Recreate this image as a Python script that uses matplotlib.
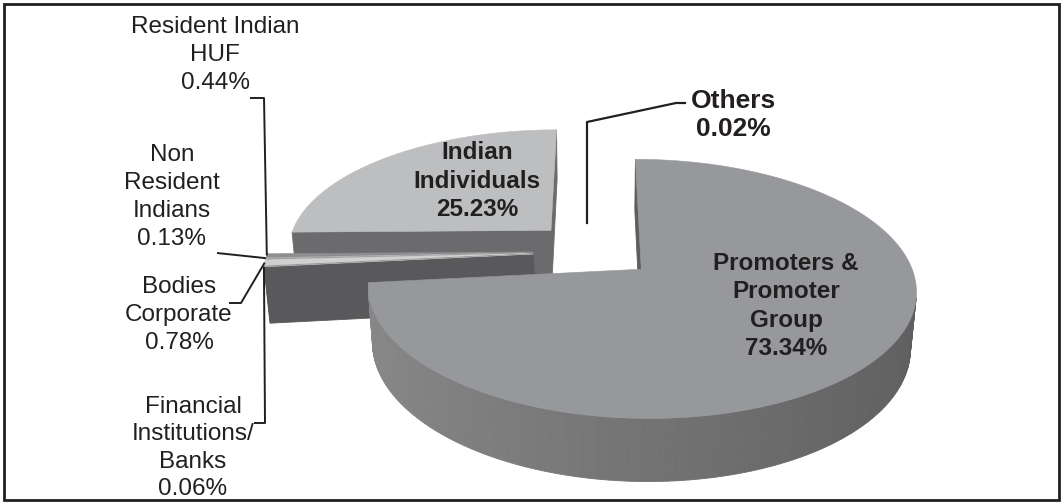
import numpy as np
import matplotlib
matplotlib.use("Agg")
import matplotlib.pyplot as plt
from matplotlib.patches import Polygon, Rectangle

# ---------------- data ----------------
categories = ["Promoters &\nPromoter\nGroup", "Financial\nInstitutions/\nBanks",
              "Bodies\nCorporate", "Non\nResident\nIndians",
              "Resident Indian\nHUF", "Indian\nIndividuals", "Others"]
values = [73.34, 0.06, 0.78, 0.13, 0.44, 25.23, 0.02]

# ---------------- style / layout ----------------
top_colors = ["#97989b", "#a9a9ab", "#d0d0d0", "#b4b4b6", "#8e8e90", "#bdbec0", "#ffffff"]
cut_colors = ["#5e5e61", "#59595b", "#5c5c5e", "#5e5e60", "#606062", "#6b6b6e", "#ffffff"]
side_base = [115, 110, 110, 110, 110, 120, 255]
edge_lw = [0.6, 0.6, 0.6, 0.6, 0.6, 0.6, 0.0]
explode = [0.22, 0.24, 0.24, 0.24, 0.24, 0.25, 0.25]
label_bold = [True, False, False, False, False, True, True]
label_size = [17.5, 17.5, 17.5, 17.5, 17.5, 17.5, 19]
label_ls = [1.30, 1.32, 1.36, 1.36, 1.36, 1.30, 1.25]
label_xy = [(786, 306), (193, 448), (179, 315), (172, 197), (215, 55), (477, 181), (733, 115)]
leaders = {
    4: [(250, 98), (264, 98)],
    3: [(217, 253)],
    2: [(229, 303), (241, 303)],
    1: [(254, 423), (265, 423)],
}
others_leader = [(685, 103), (676, 103), (587, 122), (587, 223)]

W, H = 1063, 504
F = 1587.0
Ldist = 5.99
phi = np.radians(27.2)
sphi, cphi = np.sin(phi), np.cos(phi)
CX, CY = 597.0, 251.0
HGT = 0.24
CAM = np.array([0.0, -Ldist * cphi, Ldist * sphi])


def proj(P):
    P = np.atleast_2d(P)
    X, V, Z = P[:, 0], P[:, 1], P[:, 2]
    depth = Ldist + V * cphi - Z * sphi
    sx = CX + F * X / depth
    sy = CY - F * (V * sphi + Z * cphi) / depth
    return np.column_stack([sx, sy])


def depth_of(P):
    P = np.atleast_2d(P)
    return np.mean(Ldist + P[:, 1] * cphi - P[:, 2] * sphi)


def gray(v):
    v = max(0, min(255, v)) / 255.0
    return (v, v, v)


fig = plt.figure(figsize=(W / 100, H / 100), dpi=100)
ax = fig.add_axes([0, 0, 1, 1])
ax.set_xlim(0, W)
ax.set_ylim(H, 0)
ax.axis("off")

plt.rcParams["font.family"] = ["Liberation Sans", "DejaVu Sans"]

# angles (clockwise from 90 deg)
vals = np.array(values, dtype=float)
cum = np.concatenate([[0], np.cumsum(vals)]) / vals.sum() * 360.0
pieces = []
for i, v in enumerate(vals):
    a_hi = 90.0 - cum[i]
    a_lo = 90.0 - cum[i + 1]
    mid = np.radians((a_hi + a_lo) / 2)
    apex = np.array([explode[i] * np.cos(mid), explode[i] * np.sin(mid), 0.0])
    pieces.append(dict(i=i, a_lo=a_lo, a_hi=a_hi, mid=mid, apex=apex))

anchors = {}
for pc in sorted(pieces, key=lambda p: -depth_of(p["apex"])):
    i = pc["i"]
    apex = pc["apex"]
    a_lo, a_hi = pc["a_lo"], pc["a_hi"]
    n = max(2, int(abs(a_hi - a_lo) / 1.0) + 2)
    th = np.radians(np.linspace(a_lo, a_hi, n))
    rim_top = np.column_stack([apex[0] + np.cos(th), apex[1] + np.sin(th), np.zeros(n)])
    rim_bot = rim_top.copy(); rim_bot[:, 2] = -HGT
    apex_b = apex.copy(); apex_b[2] = -HGT
    faces = []
    # cut faces
    for ang, nang in [(a_lo, a_lo - 90), (a_hi, a_hi + 90)]:
        t = np.radians(ang)
        o = np.array([apex[0] + np.cos(t), apex[1] + np.sin(t), 0.0])
        ob = o.copy(); ob[2] = -HGT
        quad = np.array([apex, o, ob, apex_b])
        nv = np.array([np.cos(np.radians(nang)), np.sin(np.radians(nang)), 0.0])
        if np.dot(nv, CAM - quad.mean(axis=0)) > 0:
            faces.append((depth_of(quad), quad, cut_colors[i]))
    # outer side strips
    for k in range(n - 1):
        quad = np.array([rim_top[k], rim_top[k + 1], rim_bot[k + 1], rim_bot[k]])
        tm = (th[k] + th[k + 1]) / 2
        nv = np.array([np.cos(tm), np.sin(tm), 0.0])
        if np.dot(nv, CAM - quad.mean(axis=0)) > 0:
            g = side_base[i] * (1 + 0.18 * np.cos(tm - np.pi))
            faces.append((depth_of(quad), quad, gray(g)))
    faces.sort(key=lambda f: -f[0])
    for d, quad, col in faces:
        ax.add_patch(Polygon(proj(quad), closed=True, facecolor=col,
                             edgecolor=col, linewidth=edge_lw[i], zorder=2))
    top = np.vstack([apex, rim_top])
    ax.add_patch(Polygon(proj(top), closed=True, facecolor=top_colors[i],
                         edgecolor=top_colors[i], linewidth=edge_lw[i] * 0.7, zorder=2))
    anchors[i] = proj(np.array([apex[0] + np.cos(pc["mid"]),
                                apex[1] + np.sin(pc["mid"]), 0.0]))[0]

# labels
for i, (cat, v) in enumerate(zip(categories, values)):
    txt = f"{cat}\n{v:.2f}%"
    ax.text(label_xy[i][0], label_xy[i][1], txt, ha="center", va="center",
            fontsize=label_size[i], fontweight="bold" if label_bold[i] else "normal",
            color="#231f20", linespacing=label_ls[i], zorder=5)

# leader lines
for i, pts in leaders.items():
    xs = [p[0] for p in pts] + [anchors[i][0]]
    ys = [p[1] for p in pts] + [anchors[i][1]]
    ax.plot(xs, ys, color="#231f20", lw=1.4, zorder=4, solid_capstyle="butt")
ax.plot([p[0] for p in others_leader], [p[1] for p in others_leader],
        color="#231f20", lw=1.6, zorder=4)

# frame
ax.add_patch(Rectangle((4, 4), W - 8, H - 8, fill=False, edgecolor="#231f20",
                       linewidth=2.0, zorder=3))

fig.savefig("out.png", dpi=100)
